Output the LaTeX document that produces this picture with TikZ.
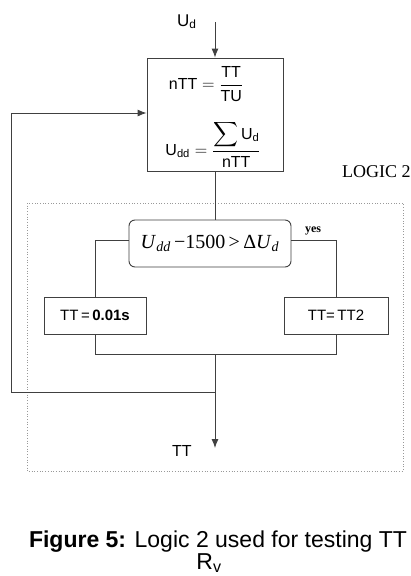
\documentclass[tikz,border=0pt]{standalone}
\usepackage{fontspec}
\usepackage{amsmath}
\setmainfont{Liberation Sans}
\newfontfamily\tms{Liberation Serif}
\usetikzlibrary{arrows.meta}
\newcommand\fsz[2]{\fontsize{#1}{#2}\selectfont}
\begin{document}
\begin{tikzpicture}[x=1pt,y=-1pt,
  ln/.style={draw=black!75, line width=0.9pt},
  arr/.style={ln, -{Latex[length=9pt,width=7pt]}},
  box/.style={ln, rectangle, inner sep=0pt, font=\fsz{15}{18}},
  decbox/.style={ln, rectangle, rounded corners=6pt, inner sep=0pt, font=\tms\fsz{20}{24}},
  txt/.style={inner sep=0pt}]
\useasboundingbox (0,0) rectangle (410,576);
\fill[white] (0,0) rectangle (410,576);
% dotted frame of LOGIC 2
\draw[draw=black!40, dotted, line width=0.7pt] (27,203) rectangle (403,471);
% boxes
\node[box, minimum width=136pt, minimum height=113pt] (calc) at (215,114.5) {};
\node[txt, font=\fsz{16}{19}] (f1) at (206,84) {$\text{nTT}=\dfrac{\text{TT}}{\text{TU}}$};
\node[txt, font=\fsz{16}{19}] (f2) at (213,144) {$\text{U}_{\text{dd}}=\dfrac{\displaystyle\sum \text{U}_{\text{d}}}{\text{nTT}}$};
\node[decbox, minimum width=162pt, minimum height=47pt] (dec) at (210,243.5)
  {\textit{U}\textsubscript{\textit{dd}}\,−1500\,>\,Δ\textit{U}\textsubscript{\textit{d}}};
\node[box, minimum width=102pt, minimum height=37pt] (left) at (95,315.5) {TT\,=\,\textbf{0.01s}};
\node[box, minimum width=104pt, minimum height=37pt] (right) at (336,315.5) {TT=\,TT2};
% coordinates
\coordinate (in) at (215,22);
\coordinate (join) at (215,354);
\coordinate (lp) at (215,392);
\coordinate (out) at (215,448);
\coordinate (lc) at (11,113);
% connectors
\draw[arr] (in) -- (calc.north);
\draw[ln] (calc.south) -- (calc.south |- dec.north);
\draw[ln] ([yshift=3.5pt]dec.west) -| (left.north);
\draw[ln] ([yshift=3.5pt]dec.east) -| (right.north);
\draw[ln] (left.south) |- (join);
\draw[ln] (right.south) |- (join);
\draw[arr] (join) -- (out);
\draw[arr] (lp) -| (lc) -- (calc.west |- lc);
% labels
\node[txt, anchor=base west, font=\fsz{17}{20}] (udl) at (177,26) {U\textsubscript{d}};
\node[txt, anchor=base west, font=\tms\fsz{18}{22}] (logic) at (342,177) {LOGIC 2};
\node[txt, anchor=base, font=\tms\bfseries\fsz{12}{14}] (yes) at (313,232) {yes};
\node[txt, anchor=base west, font=\fsz{16}{19}] (ttl) at (172,456) {TT};
\node[txt, anchor=base, font=\fsz{23}{27}] (cap) at (218,547) {\textbf{Figure 5:} Logic 2 used for testing TT};
\node[txt, anchor=base, font=\fsz{23}{27}] (rv) at (209,569) {R\textsubscript{v}};
\end{tikzpicture}
\end{document}
